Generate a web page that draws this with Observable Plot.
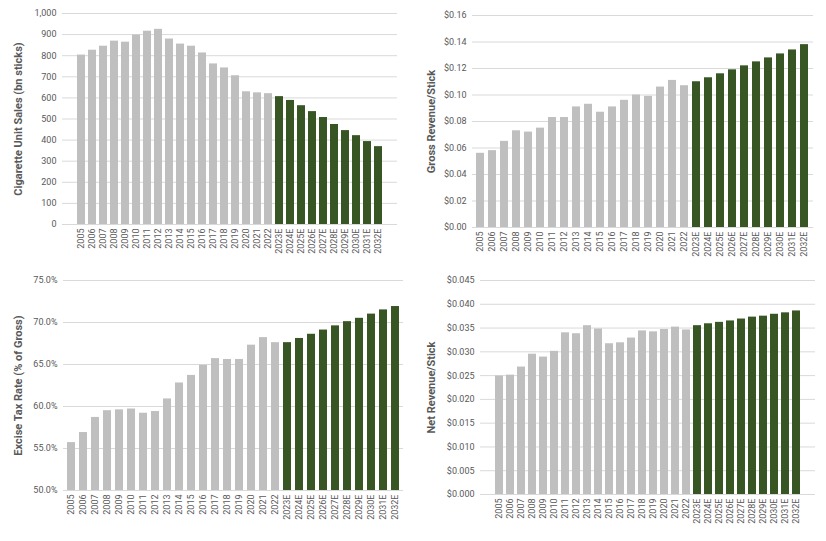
<!DOCTYPE html>
<html><head><meta charset="utf-8">
<script src="https://cdn.jsdelivr.net/npm/d3@7"></script>
<script src="https://cdn.jsdelivr.net/npm/@observablehq/plot@0.6"></script>
<style>
body{margin:0;background:#fff;font-family:Roboto,"Noto Sans",sans-serif}
#wrap{position:relative;width:826px;height:541px}
.p{position:absolute}
</style></head><body><div id="wrap"></div>
<script>
const years = ["2005","2006","2007","2008","2009","2010","2011","2012","2013","2014","2015","2016","2017","2018","2019","2020","2021","2022","2023E","2024E","2025E","2026E","2027E","2028E","2029E","2030E","2031E","2032E"];
const sales = [803,826,845,869,864,898,916,925,879,855,845,813,761,742,705,629,624,620,606,588,563,535,507,474,445,421,393,369];
const gross = [.056,.058,.065,.073,.072,.075,.083,.083,.091,.093,.087,.091,.096,.100,.099,.106,.111,.107,.110,.113,.116,.119,.122,.125,.128,.131,.134,.138];
const excise = [55.7,56.9,58.7,59.5,59.6,59.7,59.2,59.4,60.9,62.8,63.7,64.9,65.7,65.6,65.6,67.3,68.2,67.6,67.6,68.1,68.6,69.1,69.6,70.1,70.5,71.0,71.5,71.9];
const net = [.0249,.0251,.0268,.0295,.0289,.0301,.0340,.0338,.0355,.0348,.0317,.0319,.0329,.0344,.0342,.0347,.0352,.0346,.0355,.0359,.0362,.0365,.0369,.0373,.0375,.0379,.0382,.0386];

const panels = [
 {vals:sales,label:"Cigarette Unit Sales (bn sticks)",dom:[0,1000],ticks:d3.range(0,1001,100),fmt:d3.format(","),x:0,y:0,m:[13,16,46,62]},
 {vals:gross,label:"Gross Revenue/Stick",dom:[0,0.16],ticks:d3.range(0,0.1601,0.02),fmt:d=>"$"+d.toFixed(2),x:413,y:0,m:[15,13,43,59]},
 {vals:excise,label:"Excise Tax Rate (% of Gross)",dom:[50,75],ticks:d3.range(50,75.01,5),fmt:d=>d.toFixed(1)+"%",x:0,y:270,m:[10,10,50,63]},
 {vals:net,label:"Net Revenue/Stick",dom:[0,0.045],ticks:d3.range(0,0.04501,0.005),fmt:d=>"$"+d.toFixed(3),x:413,y:270,m:[10,11,46,67]}
];
const wrap = document.getElementById("wrap");
for (const p of panels) {
  const data = years.map((y,i)=>({year:y,v:p.vals[i],est:y.endsWith("E")}));
  const chart = Plot.plot({
    width:413,height:270,marginTop:p.m[0],marginRight:p.m[1],marginBottom:p.m[2],marginLeft:p.m[3],
    style:{fontFamily:"Roboto, sans-serif",fontSize:"9px",color:"#595959",background:"#fff"},
    x:{domain:years,padding:0.3,label:null,tickRotate:-90,tickSize:0,tickPadding:4},
    y:{domain:p.dom,ticks:p.ticks,tickFormat:p.fmt,label:null,tickSize:0,tickPadding:6},
    marks:[
      Plot.gridY(p.ticks,{stroke:"#d9d9d9",strokeOpacity:1}),
      Plot.barY(data,{x:"year",y1:p.dom[0],y2:"v",fill:d=>d.est?"#375623":"#bfbfbf"}),
      Plot.ruleY([p.dom[0]],{stroke:"#d9d9d9"}),
      Plot.text([p.label],{frameAnchor:"left",textAnchor:"middle",dx:-p.m[3]+18,rotate:-90,fontSize:11,fontWeight:"bold",fill:"#595959"})
    ]
  });
  chart.classList.add("p");
  chart.style.left=p.x+"px"; chart.style.top=p.y+"px";
  wrap.appendChild(chart);
}
</script></body></html>
